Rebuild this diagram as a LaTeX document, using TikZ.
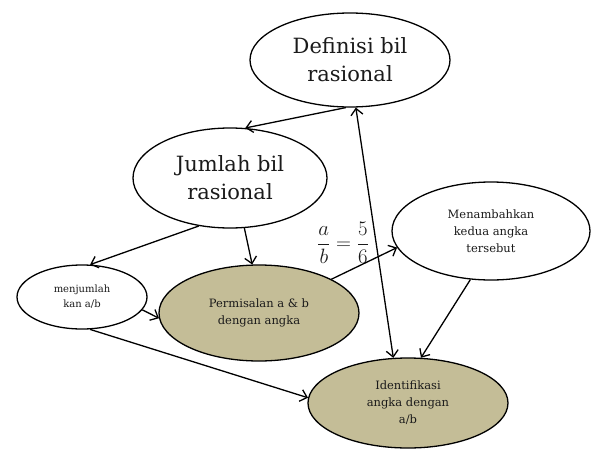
\documentclass[tikz,border=0pt]{standalone}
\usepackage{fontspec}
\setmainfont{DejaVu Serif}
\usetikzlibrary{shapes.geometric,arrows.meta}
\definecolor{tanfill}{HTML}{C4BD97}
\definecolor{txt}{HTML}{1A1A1A}
\tikzset{
  bub/.style 2 args={ellipse, draw=black, line width=1.3pt, minimum width=#1, minimum height=#2, inner sep=0pt, align=center, text=txt},
  tanbub/.style={fill=tanfill},
  bigtxt/.style={font=\fontsize{21}{28}\selectfont},
  midtxt/.style={font=\fontsize{11.5}{17}\selectfont},
  smltxt/.style={font=\fontsize{10}{15}\selectfont},
  arr/.style={-{Straight Barb[length=6.5pt,width=12pt]}, line width=1.3pt},
  darr/.style={{Straight Barb[length=6.5pt,width=12pt]}-{Straight Barb[length=6.5pt,width=12pt]}, line width=1.3pt},
}
\begin{document}
\begin{tikzpicture}[x=1pt,y=-1pt]
\useasboundingbox (0,0) rectangle (592,450);
\node[bub={200pt}{94pt}, bigtxt] (D) at (350,60) {Definisi bil\\rasional};
\node[bub={194pt}{100pt}, bigtxt] (J) at (230,178) {Jumlah bil\\rasional};
\node[bub={130pt}{64pt}, smltxt] (M) at (82,297) {menjumlah\\kan a/b};
\node[bub={200pt}{96pt}, tanbub, midtxt] (P) at (259,313) {Permisalan a \& b\\dengan angka};
\node[bub={198pt}{98pt}, midtxt] (N) at (491,231) {Menambahkan\\kedua angka\\tersebut};
\node[bub={200pt}{90pt}, tanbub, midtxt] (I) at (408,403) {Identifikasi\\angka dengan\\a/b};
\node[text=txt, font=\fontsize{20}{24}\selectfont] (lbl) at (343,243) {$\displaystyle\frac{a}{b}=\frac{5}{6}$};

\draw[arr] (D.265) -- (J.73);
\draw[arr] (J.237) -- (M.76);
\draw[arr] (J.286) -- (P.98);
\draw[arr] (M.348) -- (P.183);
\draw[arr] (M.284) -- (I.177);
\draw[arr] (P.25) -- (N.190);
\draw[darr] (D.277) -- (I.108);
\draw[arr] (N.247) -- (I.74);
\end{tikzpicture}
\end{document}
